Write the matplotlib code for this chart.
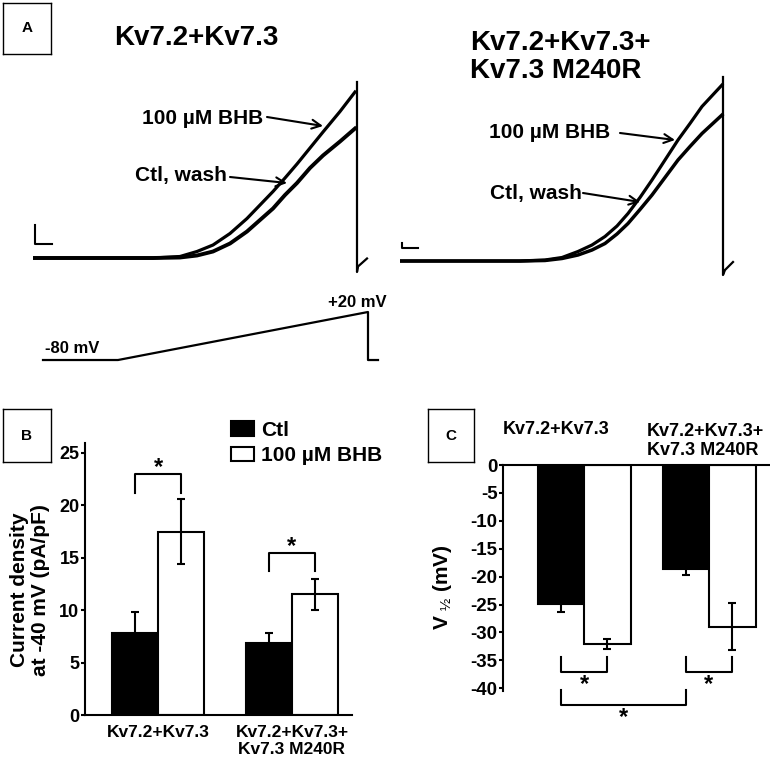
import numpy as np
import matplotlib
matplotlib.use('Agg')
import matplotlib.pyplot as plt

plt.rcParams['font.family'] = ['Liberation Sans', 'DejaVu Sans']
plt.rcParams['mathtext.fontset'] = 'custom'
plt.rcParams['mathtext.rm'] = 'Liberation Sans'
plt.rcParams['mathtext.bf'] = 'Liberation Sans:bold'
plt.rcParams['mathtext.default'] = 'rm'
plt.rcParams['axes.unicode_minus'] = False

W, H = 770, 765

# ---- panel A: ramp currents (time s, current nA) ----
LEFT_T = [0, 0.4, 0.8, 1.2, 1.47, 1.64, 1.80, 1.97, 2.14, 2.27, 2.40, 2.52, 2.64, 2.77, 2.90, 3.07, 3.22]
LEFT_BHB = [0, 0, 0, 0, 0.03, 0.13, 0.26, 0.49, 0.79, 1.06, 1.33, 1.60, 1.88, 2.20, 2.52, 2.93, 3.32]
LEFT_CTL = [0, 0, 0, 0, 0.01, 0.05, 0.13, 0.29, 0.53, 0.76, 0.99, 1.26, 1.50, 1.80, 2.05, 2.33, 2.59]
LEFT_STEP_T = [3.24, 3.24, 3.25, 3.34]
LEFT_STEP_I = [3.52, -0.28, -0.17, -0.01]

RIGHT_T = [0, 0.4, 0.8, 1.2, 1.45, 1.62, 1.78, 1.92, 2.05, 2.17, 2.28, 2.40, 2.52, 2.65, 2.78, 2.90, 3.02, 3.22]
RIGHT_BHB = [0, 0, 0, 0, 0.02, 0.07, 0.19, 0.32, 0.49, 0.70, 0.95, 1.27, 1.62, 2.02, 2.42, 2.75, 3.09, 3.52]
RIGHT_CTL = [0, 0, 0, 0, 0.01, 0.05, 0.12, 0.22, 0.35, 0.54, 0.75, 1.03, 1.32, 1.67, 2.02, 2.29, 2.55, 2.92]
RIGHT_STEP_T = [3.23, 3.23, 3.25, 3.33]
RIGHT_STEP_I = [3.68, -0.28, -0.18, -0.02]

# voltage protocol (s, mV)
PROTO_T = [0, 0.75, 3.25, 3.25, 3.35]
PROTO_V = [-80, -80, 20, -80, -80]

# ---- panel B: current density at -40 mV (pA/pF) ----
GROUPS = ['Kv7.2+Kv7.3', 'Kv7.2+Kv7.3+\nKv7.3 M240R']
B_CTL = [7.8, 6.9]
B_CTL_ERR = [2.0, 0.9]
B_BHB = [17.5, 11.5]
B_BHB_ERR = [3.1, 1.5]
B_SIG = [23.0, 15.5]

# ---- panel C: V1/2 (mV) ----
C_CTL = [-24.9, -18.7]
C_CTL_ERR = [1.5, 1.0]
C_BHB = [-32.1, -29.0]
C_BHB_ERR = [0.9, 4.2]
C_SIG = [-34.4, -34.4, -40.3]


def box(x0, y0, x1, y1):
    # pixel box -> figure fraction
    return [x0 / W, 1 - y1 / H, (x1 - x0) / W, (y1 - y0) / H]


def letter_box(x0, y0, x1, y1, s):
    a = fig.add_axes(box(x0, y0, x1, y1))
    a.set_xticks([])
    a.set_yticks([])
    for sp in a.spines.values():
        sp.set_linewidth(1.0)
    a.text(0.5, 0.5, s, ha='center', va='center', fontsize=11, weight='bold', transform=a.transAxes)


def arrow(ax, start, tip):
    ax.annotate('', xy=tip, xytext=start,
                arrowprops=dict(arrowstyle='->', lw=1.5, color='black', shrinkA=0, shrinkB=0, mutation_scale=16))


fig = plt.figure(figsize=(W / 100, H / 100), dpi=100)

########################################
# A: traces
########################################
letter_box(3, 3, 51, 54, 'A')
fig.text(196 / W, 1 - 38 / H, 'Kv7.2+Kv7.3', ha='center', va='center', fontsize=20, weight='bold')
fig.text(470 / W, 1 - 57 / H, 'Kv7.2+Kv7.3+\nKv7.3 M240R', ha='left', va='center', fontsize=20, weight='bold',
         linespacing=1.05)

axL = fig.add_axes(box(33, 70, 373, 280))
axL.plot(LEFT_T, LEFT_BHB, color='black', lw=2.3)
axL.plot(LEFT_T, LEFT_CTL, color='black', lw=2.8)
axL.plot(LEFT_STEP_T, LEFT_STEP_I, color='black', lw=1.6)
axL.plot([0.02, 0.02, 0.19], [0.66, 0.28, 0.28], color='black', lw=1.5)   # scale bar
axL.set_xlim(0, 3.4)
axL.set_ylim(-0.44, 3.76)
axL.axis('off')
axL.text(2.30, 2.80, '100 µM BHB', ha='right', va='center', fontsize=15, weight='bold')
arrow(axL, (2.34, 2.82), (2.90, 2.64))
axL.text(1.94, 1.66, 'Ctl, wash', ha='right', va='center', fontsize=15, weight='bold')
arrow(axL, (1.97, 1.62), (2.54, 1.50))

axR = fig.add_axes(box(400, 70, 740, 285))
axR.plot(RIGHT_T, RIGHT_BHB, color='black', lw=2.3)
axR.plot(RIGHT_T, RIGHT_CTL, color='black', lw=2.5)
axR.plot(RIGHT_STEP_T, RIGHT_STEP_I, color='black', lw=1.6)
axR.plot([0.02, 0.02, 0.18], [0.36, 0.26, 0.26], color='black', lw=1.5)   # scale bar
axR.set_xlim(0, 3.4)
axR.set_ylim(-0.48, 3.82)
axR.axis('off')
axR.text(2.10, 2.56, '100 µM BHB', ha='right', va='center', fontsize=15, weight='bold')
arrow(axR, (2.20, 2.56), (2.75, 2.42))
axR.text(1.82, 1.36, 'Ctl, wash', ha='right', va='center', fontsize=15, weight='bold')
arrow(axR, (1.83, 1.36), (2.40, 1.18))

# voltage protocol
axP = fig.add_axes(box(30, 290, 390, 370))
axP.plot(PROTO_T, PROTO_V, color='black', lw=1.6)
axP.set_xlim(-0.13, 3.47)
axP.set_ylim(-100.8, 65.8)
axP.axis('off')
axP.text(0.02, -57, '-80 mV', ha='left', va='center', fontsize=12, weight='bold')
axP.text(3.44, 39, '+20 mV', ha='right', va='center', fontsize=12, weight='bold')

########################################
# B: current density
########################################
letter_box(3, 409, 51, 462, 'B')
axB = fig.add_axes(box(85, 442.5, 352, 715))
x = np.arange(len(GROUPS))
w = 0.343
axB.bar(x - w / 2, B_CTL, w, color='black', edgecolor='black', lw=1.5, label='Ctl')
axB.bar(x + w / 2, B_BHB, w, color='white', edgecolor='black', lw=1.5, label='100 µM BHB')
axB.errorbar(x - w / 2, B_CTL, yerr=B_CTL_ERR, fmt='none', ecolor='black', elinewidth=1.5, capsize=3, capthick=1.5)
axB.errorbar(x + w / 2, B_BHB, yerr=B_BHB_ERR, fmt='none', ecolor='black', elinewidth=1.5, capsize=3, capthick=1.5)
for i, top in enumerate(B_SIG):
    axB.plot([x[i] - w / 2, x[i] - w / 2, x[i] + w / 2, x[i] + w / 2],
             [top - 1.8, top, top, top - 1.8], color='black', lw=1.5)
    axB.text(x[i], top + 0.6, '*', ha='center', va='center', fontsize=17, weight='bold')
axB.set_xlim(-0.545, 1.448)
axB.set_ylim(0, 26)
axB.set_yticks([0, 5, 10, 15, 20, 25])
axB.set_xticks(x)
axB.set_xticklabels(GROUPS, fontsize=12.5, weight='bold')
axB.tick_params(axis='x', length=0, pad=7)
axB.tick_params(axis='y', direction='out', length=3, width=1.5, labelsize=13, pad=1)
for lab in axB.get_yticklabels():
    lab.set_fontweight('bold')
axB.spines['top'].set_visible(False)
axB.spines['right'].set_visible(False)
axB.spines['left'].set_linewidth(1.5)
axB.spines['bottom'].set_linewidth(1.5)
fig.text(30 / W, 1 - 590 / H, 'Current density\nat -40 mV (pA/pF)', rotation=90, ha='center', va='center',
         fontsize=15, weight='bold', linespacing=1.15)
axB.legend(loc='upper left', bbox_to_anchor=(231 / W, 1 - 421 / H), bbox_transform=fig.transFigure,
           frameon=False, prop={'weight': 'bold', 'size': 15},
           handlelength=1.1, handleheight=0.72, handletextpad=0.35, labelspacing=0.3,
           borderpad=0, borderaxespad=0)

########################################
# C: V1/2
########################################
letter_box(428, 409, 474, 462, 'C')
axC = fig.add_axes(box(503, 465, 770, 691))
wc = 0.372
axC.bar(x - wc / 2, C_CTL, wc, color='black', edgecolor='black', lw=1.5)
axC.bar(x + wc / 2, C_BHB, wc, color='white', edgecolor='black', lw=1.5)
axC.errorbar(x - wc / 2, C_CTL, yerr=C_CTL_ERR, fmt='none', ecolor='black', elinewidth=1.5, capsize=3, capthick=1.5)
axC.errorbar(x + wc / 2, C_BHB, yerr=C_BHB_ERR, fmt='none', ecolor='black', elinewidth=1.5, capsize=3, capthick=1.5)
# comparisons: Ctl vs BHB in each group, then Ctl vs Ctl
pairs = [(x[0] - wc / 2, x[0] + wc / 2), (x[1] - wc / 2, x[1] + wc / 2), (x[0] - wc / 2, x[1] - wc / 2)]
for (a, b), top in zip(pairs, C_SIG):
    axC.plot([a, a, b, b], [top, top - 2.7, top - 2.7, top], color='black', lw=1.5, clip_on=False)
    axC.text((a + b) / 2, top - 4.9, '*', ha='center', va='center', fontsize=17, weight='bold', clip_on=False)
axC.set_xlim(-0.648, 1.488)
axC.set_ylim(-40.5, 0)
axC.set_yticks(np.arange(0, -41, -5))
axC.set_xticks([])
axC.tick_params(axis='y', direction='out', length=3, width=1.5, labelsize=13.5, pad=1)
for lab in axC.get_yticklabels():
    lab.set_fontweight('bold')
axC.spines['bottom'].set_visible(False)
axC.spines['right'].set_visible(False)
axC.spines['left'].set_linewidth(1.5)
axC.spines['top'].set_linewidth(1.5)
axC.text(-0.224, 6.3, GROUPS[0], ha='center', va='center', fontsize=13, weight='bold', clip_on=False)
axC.text(0.504, 4.3, GROUPS[1], ha='left', va='center', fontsize=13, weight='bold', clip_on=False)
fig.text(443 / W, 1 - 587 / H, r'V $_{½}$ (mV)', rotation=90, ha='center', va='center', fontsize=15, weight='bold')

fig.savefig('out.png', dpi=100)
